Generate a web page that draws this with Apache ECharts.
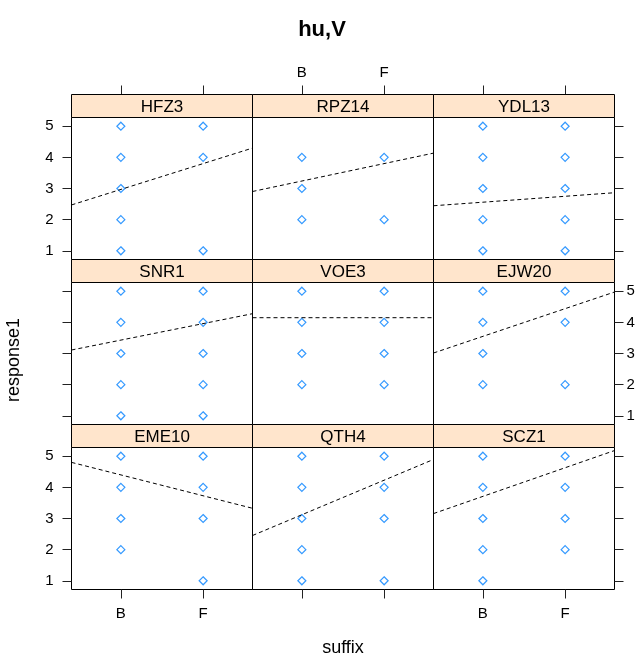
<!DOCTYPE html>
<html>
<head>
<meta charset="utf-8">
<script src="https://cdn.jsdelivr.net/npm/echarts@6/dist/echarts.min.js"></script>
<style>html,body{margin:0;padding:0;background:#fff;}#chart{width:644px;height:661px;}</style>
</head>
<body>
<div id="chart"></div>
<script>
// ---- data ----
const categories = ['B', 'F'];
const panelNames = ['HFZ3', 'RPZ14', 'YDL13', 'SNR1', 'VOE3', 'EJW20', 'EME10', 'QTH4', 'SCZ1'];
const responsesB = [[1,2,3,4,5],[2,3,4],[1,2,3,4,5],[1,2,3,4,5],[2,3,4,5],[2,3,4,5],[2,3,4,5],[1,2,3,4,5],[1,2,3,4,5]];
const responsesF = [[1,4,5],[2,4],[1,2,3,4,5],[1,2,3,4,5],[2,3,4,5],[2,4,5],[1,3,4,5],[1,3,4,5],[2,3,4,5]];
const fitB = [2.97, 3.24, 2.56, 3.43, 4.15, 3.55, 4.40, 3.12, 3.71];
const fitF = [3.80, 3.80, 2.75, 3.96, 4.15, 4.44, 3.73, 4.23, 4.63];
const yTicks = [1, 2, 3, 4, 5];
const titleText = 'hu,V';
const xTitle = 'suffix';
const yTitle = 'response1';

// ---- layout ----
const FONT = "'Liberation Sans', Arial, sans-serif";
const left0 = 71.5, colW = 181, top0 = 94.5, stripH = 23, panelH = 142;
const xMin = 0.4, xMax = 2.6, yMin = 0.72, yMax = 5.28;
const xVals = categories.map((c, i) => i + 1);

const grids = [], xAxes = [], yAxes = [], series = [], graphics = [];
panelNames.forEach((name, i) => {
  const r = Math.floor(i / 3), c = i % 3;
  const gl = left0 + c * colW;
  const st = top0 + r * (stripH + panelH);
  const gt = st + stripH;
  grids.push({ left: gl, top: gt, width: colW, height: panelH, show: true,
    borderColor: '#000', borderWidth: 1, backgroundColor: 'transparent', containLabel: false });
  const xBase = { type: 'value', gridIndex: i, min: xMin, max: xMax,
    splitLine: { show: false }, axisLine: { show: false } };
  const bx = xAxes.length;
  xAxes.push(Object.assign({}, xBase, { position: 'bottom',
    axisTick: { show: r === 2, customValues: xVals, length: 9, lineStyle: { color: '#222' } },
    axisLabel: { show: r === 2 && c !== 1, customValues: xVals, margin: 17, fontSize: 15, fontFamily: FONT, color: '#000',
      formatter: v => categories[Math.round(v) - 1] } }));
  if (r === 0) {
    xAxes.push(Object.assign({}, xBase, { position: 'top', offset: stripH,
      axisTick: { show: true, customValues: xVals, length: 9, lineStyle: { color: '#222' } },
      axisLabel: { show: c === 1, customValues: xVals, margin: 14, fontSize: 15, fontFamily: FONT, color: '#000',
        formatter: v => categories[Math.round(v) - 1] } }));
  }
  const yBase = { type: 'value', gridIndex: i, min: yMin, max: yMax,
    splitLine: { show: false }, axisLine: { show: false } };
  const ly = yAxes.length;
  yAxes.push(Object.assign({}, yBase, { position: 'left',
    axisTick: { show: c === 0, customValues: yTicks, length: 9, lineStyle: { color: '#222' } },
    axisLabel: { show: c === 0 && r !== 1, customValues: yTicks, margin: 18, fontSize: 15, fontFamily: FONT, color: '#000' } }));
  if (c === 2) {
    yAxes.push(Object.assign({}, yBase, { position: 'right',
      axisTick: { show: true, customValues: yTicks, length: 9, lineStyle: { color: '#222' } },
      axisLabel: { show: r === 1, customValues: yTicks, margin: 12, fontSize: 15, fontFamily: FONT, color: '#000' } }));
  }
  const pts = responsesB[i].map(v => [xVals[0], v]).concat(responsesF[i].map(v => [xVals[1], v]));
  series.push({ type: 'scatter', xAxisIndex: bx, yAxisIndex: ly, data: pts, symbol: 'diamond', symbolSize: 8,
    itemStyle: { color: 'rgba(0,0,0,0)', borderColor: '#0080ff', borderWidth: 1.2 }, silent: true });
  const slope = (fitF[i] - fitB[i]) / (xVals[1] - xVals[0]);
  const lineAt = x => fitB[i] + slope * (x - xVals[0]);
  series.push({ type: 'line', xAxisIndex: bx, yAxisIndex: ly, data: [[xMin, lineAt(xMin)], [xMax, lineAt(xMax)]],
    symbol: 'none', clip: true, lineStyle: { color: '#000', width: 1, type: [4, 3] }, silent: true });
  graphics.push({ type: 'rect', shape: { x: gl, y: st, width: colW, height: stripH },
    style: { fill: '#ffe5cc', stroke: '#000', lineWidth: 1 }, z: 10 });
  graphics.push({ type: 'text', x: gl + colW / 2, y: st + stripH / 2 + 1,
    style: { text: name, fill: '#000', font: '17px ' + FONT, textAlign: 'center', textVerticalAlign: 'middle' }, z: 11 });
});

graphics.push({ type: 'text', x: 14, y: 360, rotation: Math.PI / 2,
  style: { text: yTitle, fill: '#000', font: '18px ' + FONT, textAlign: 'center', textVerticalAlign: 'middle' } });
graphics.push({ type: 'text', x: 343, y: 648,
  style: { text: xTitle, fill: '#000', font: '18px ' + FONT, textAlign: 'center', textVerticalAlign: 'middle' } });

const chart = echarts.init(document.getElementById('chart'), null, { renderer: 'canvas' });
chart.setOption({
  animation: false,
  backgroundColor: '#fff',
  title: { text: titleText, left: 'center', top: 14,
    textStyle: { fontSize: 22, fontWeight: 'bold', fontFamily: FONT, color: '#000' } },
  grid: grids, xAxis: xAxes, yAxis: yAxes, series: series, graphic: graphics
});
</script>
</body>
</html>
